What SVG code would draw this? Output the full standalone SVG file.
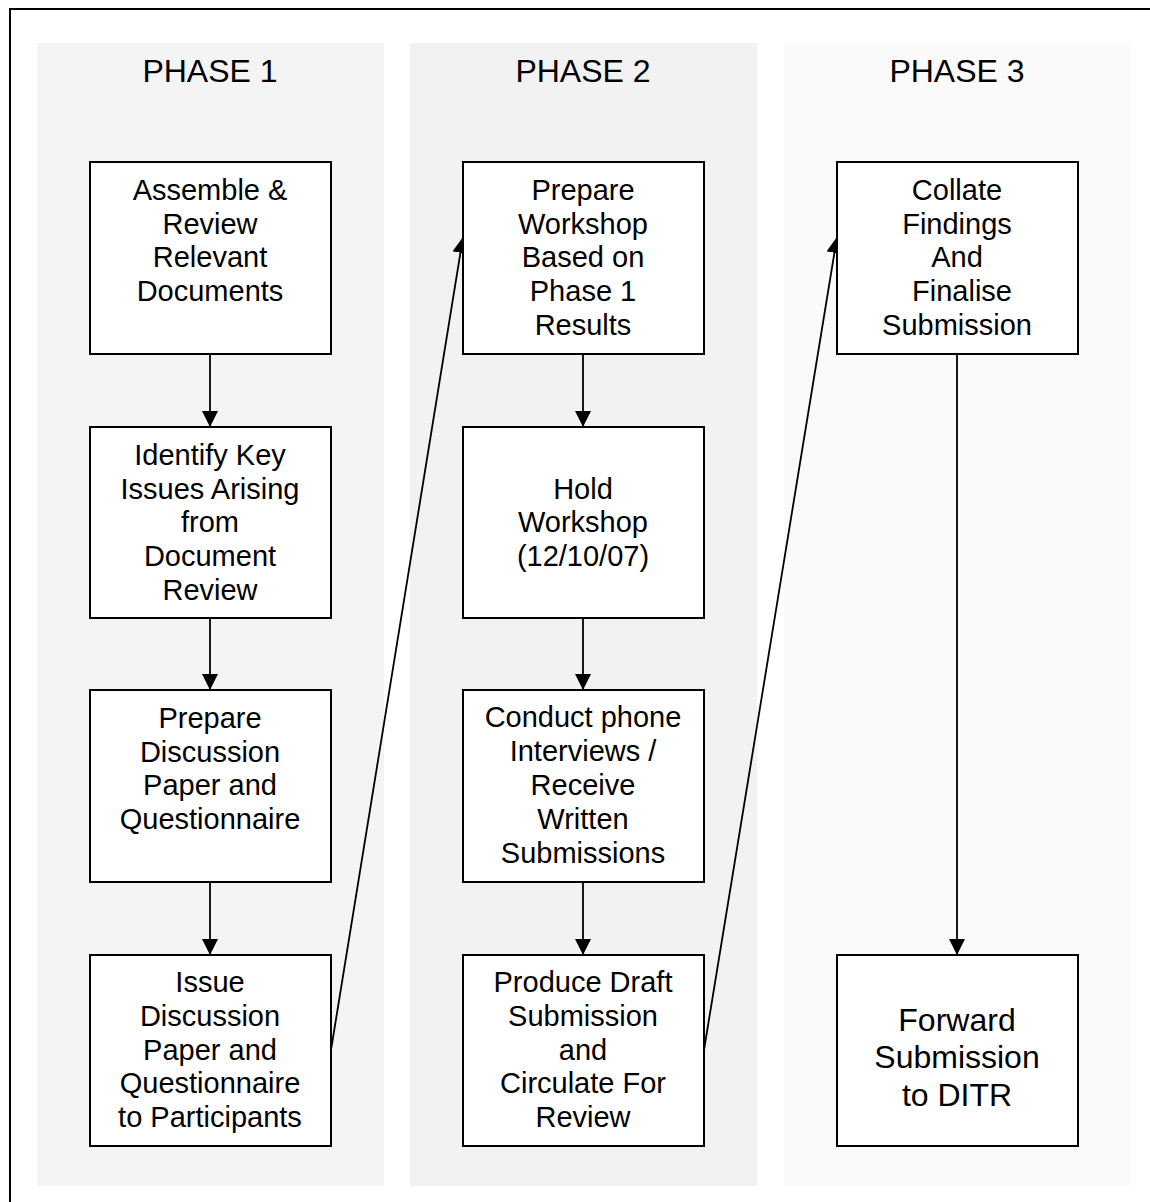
<svg xmlns="http://www.w3.org/2000/svg" width="1150" height="1202" viewBox="0 0 1150 1202">
<defs>
<style>
.t{font-family:"Liberation Sans",Arial,sans-serif;font-size:29px;fill:#000;text-anchor:middle}
.big{font-size:32px}
.box{fill:#fff;stroke:#000;stroke-width:2}
.con{fill:none;stroke:#000;stroke-width:1.8;marker-end:url(#ah)}
</style>
<marker id="ah" markerUnits="userSpaceOnUse" markerWidth="16" markerHeight="16" viewBox="0 0 15 15" refX="15" refY="7.5" orient="auto">
<path d="M0,0 L15,7.5 L0,15 z" fill="#000"/>
</marker>
</defs>
<rect x="0" y="0" width="1150" height="1202" fill="#fff"/>
<rect x="10" y="9" width="1200" height="1260" fill="#fff" stroke="#000" stroke-width="2"/>
<g id="phase1">
<rect x="37" y="43" width="347" height="1143" fill="#f4f4f4"/>
<text class="t big" x="210" y="82">PHASE 1</text>
</g>
<g id="phase2">
<rect x="410" y="43" width="347" height="1143" fill="#f2f2f2"/>
<text class="t big" x="583" y="82">PHASE 2</text>
</g>
<g id="phase3">
<rect x="784" y="43" width="347" height="1143" fill="#fafafa"/>
<text class="t big" x="957" y="82">PHASE 3</text>
</g>
<g id="connectors">
<line class="con" x1="210" y1="354" x2="210" y2="427"/>
<line class="con" x1="210" y1="618" x2="210" y2="690"/>
<line class="con" x1="210" y1="882" x2="210" y2="955"/>
<line class="con" x1="331" y1="1050" x2="463" y2="237"/>
<line class="con" x1="583" y1="354" x2="583" y2="427"/>
<line class="con" x1="583" y1="618" x2="583" y2="690"/>
<line class="con" x1="583" y1="882" x2="583" y2="955"/>
<line class="con" x1="704" y1="1050" x2="837" y2="237"/>
<line class="con" x1="957" y1="354" x2="957" y2="955"/>
</g>
<g id="n1">
<rect class="box" x="90" y="162" width="241" height="192"/>
<text class="t" x="210" y="200">Assemble &amp;</text>
<text class="t" x="210" y="234">Review</text>
<text class="t" x="210" y="267">Relevant</text>
<text class="t" x="210" y="301">Documents</text>
</g>
<g id="n2">
<rect class="box" x="90" y="427" width="241" height="191"/>
<text class="t" x="210" y="465">Identify Key</text>
<text class="t" x="210" y="499">Issues Arising</text>
<text class="t" x="210" y="532">from</text>
<text class="t" x="210" y="566">Document</text>
<text class="t" x="210" y="600">Review</text>
</g>
<g id="n3">
<rect class="box" x="90" y="690" width="241" height="192"/>
<text class="t" x="210" y="728">Prepare</text>
<text class="t" x="210" y="762">Discussion</text>
<text class="t" x="210" y="795">Paper and</text>
<text class="t" x="210" y="829">Questionnaire</text>
</g>
<g id="n4">
<rect class="box" x="90" y="955" width="241" height="191"/>
<text class="t" x="210" y="992">Issue</text>
<text class="t" x="210" y="1026">Discussion</text>
<text class="t" x="210" y="1060">Paper and</text>
<text class="t" x="210" y="1093">Questionnaire</text>
<text class="t" x="210" y="1127">to Participants</text>
</g>
<g id="n5">
<rect class="box" x="463" y="162" width="241" height="192"/>
<text class="t" x="583" y="200">Prepare</text>
<text class="t" x="583" y="234">Workshop</text>
<text class="t" x="583" y="267">Based on</text>
<text class="t" x="583" y="301">Phase 1</text>
<text class="t" x="583" y="335">Results</text>
</g>
<g id="n6">
<rect class="box" x="463" y="427" width="241" height="191"/>
<text class="t" x="583" y="499">Hold</text>
<text class="t" x="583" y="532">Workshop</text>
<text class="t" x="583" y="566">(12/10/07)</text>
</g>
<g id="n7">
<rect class="box" x="463" y="690" width="241" height="192"/>
<text class="t" x="583" y="727">Conduct phone</text>
<text class="t" x="583" y="761">Interviews /</text>
<text class="t" x="583" y="795">Receive</text>
<text class="t" x="583" y="829">Written</text>
<text class="t" x="583" y="863">Submissions</text>
</g>
<g id="n8">
<rect class="box" x="463" y="955" width="241" height="191"/>
<text class="t" x="583" y="992">Produce Draft</text>
<text class="t" x="583" y="1026">Submission</text>
<text class="t" x="583" y="1060">and</text>
<text class="t" x="583" y="1093">Circulate For</text>
<text class="t" x="583" y="1127">Review</text>
</g>
<g id="n9">
<rect class="box" x="837" y="162" width="241" height="192"/>
<text class="t" x="957" y="200">Collate</text>
<text class="t" x="957" y="234">Findings</text>
<text class="t" x="957" y="267">And</text>
<text class="t" x="962" y="301">Finalise</text>
<text class="t" x="957" y="335">Submission</text>
</g>
<g id="n10">
<rect class="box" x="837" y="955" width="241" height="191"/>
<text class="t big" x="957" y="1031">Forward</text>
<text class="t big" x="957" y="1068">Submission</text>
<text class="t big" x="957" y="1106">to DITR</text>
</g>
</svg>
